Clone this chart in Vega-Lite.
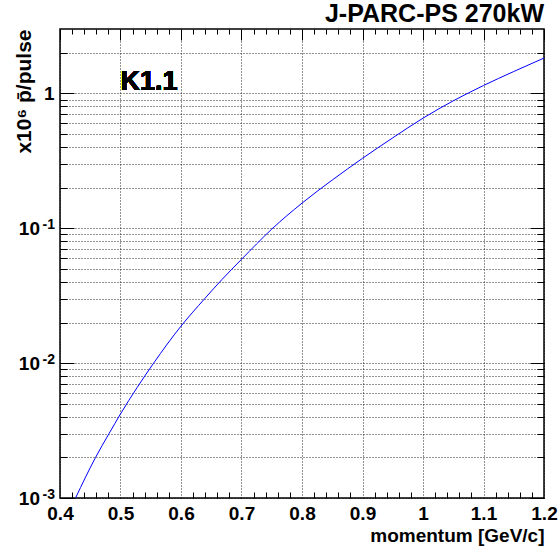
{
  "$schema": "https://vega.github.io/schema/vega-lite/v6.json",
  "width": 484,
  "height": 469,
  "autosize": "none",
  "padding": {"left": 60, "top": 29, "right": 16, "bottom": 53},
  "background": "white",
  "config": {
    "view": {"stroke": "black", "strokeWidth": 1.5},
    "font": "Liberation Sans",
    "axis": {
      "domain": false,
      "labelFont": "Liberation Sans",
      "labelFontWeight": "bold",
      "labelColor": "black",
      "titleFont": "Liberation Sans",
      "titleFontWeight": "bold",
      "titleColor": "black",
      "tickColor": "black",
      "tickWidth": 1,
      "gridColor": "black",
      "gridDash": [1, 2],
      "gridOpacity": 0.85,
      "gridWidth": 1,
      "labelFlush": false,
      "labelOverlap": false,
      "labelBound": false
    }
  },
  "title": {
    "text": "J-PARC-PS 270kW",
    "anchor": "end",
    "frame": "group",
    "fontSize": 25,
    "font": "Liberation Sans",
    "fontWeight": "bold",
    "color": "black",
    "baseline": "alphabetic",
    "offset": 5,
    "dy": 23
  },
  "data": {
    "values": [
      {"p": 0.4257, "n": 0.001},
      {"p": 0.4588, "n": 0.002},
      {"p": 0.481, "n": 0.003},
      {"p": 0.5, "n": 0.0042},
      {"p": 0.5548, "n": 0.01},
      {"p": 0.6, "n": 0.0188},
      {"p": 0.639, "n": 0.03},
      {"p": 0.668, "n": 0.0418},
      {"p": 0.7, "n": 0.0588},
      {"p": 0.75, "n": 0.0985},
      {"p": 0.8, "n": 0.1535},
      {"p": 0.85, "n": 0.2277},
      {"p": 0.9, "n": 0.33},
      {"p": 0.95, "n": 0.468},
      {"p": 1.0, "n": 0.655},
      {"p": 1.05, "n": 0.88},
      {"p": 1.1, "n": 1.143},
      {"p": 1.15, "n": 1.452},
      {"p": 1.2, "n": 1.827}
    ]
  },
  "resolve": {"axis": {"x": "independent", "y": "independent"}},
  "layer": [
    {
      "mark": {"type": "line", "color": "#0000ff", "strokeWidth": 1, "interpolate": "monotone", "clip": true},
      "encoding": {
        "x": {
          "field": "p", "type": "quantitative",
          "scale": {"domain": [0.4, 1.2], "nice": false, "zero": false},
          "axis": {
            "orient": "bottom",
            "values": [0.4, 0.5, 0.6, 0.7, 0.8, 0.9, 1, 1.1, 1.2],
            "labelExpr": "format(datum.value, '.2~f')",
            "ticks": false,
            "grid": true,
            "labelFontSize": 19,
            "labelPadding": 6,
            "labelBaseline": "top",
            "title": "momentum [GeV/c]",
            "titleFontSize": 19,
            "titleAnchor": "end",
            "titleAlign": "right",
            "titleBaseline": "alphabetic",
            "titleX": 484,
            "titleY": 43
          }
        },
        "y": {
          "field": "n", "type": "quantitative",
          "scale": {"type": "log", "domain": [0.001, 3], "nice": false},
          "axis": {
            "orient": "left",
            "values": [0.001, 0.01, 0.1],
            "labelExpr": "'10'",
            "ticks": false,
            "grid": false,
            "labelFontSize": 19,
            "labelPadding": 20.5,
            "labelBaseline": "middle",
            "title": "x10⁶ p̄/pulse",
            "titleFontSize": 21,
            "titleAngle": -90,
            "titleAnchor": "end",
            "titleAlign": "right",
            "titleBaseline": "alphabetic",
            "titleX": -29.5,
            "titleY": 0
          }
        }
      }
    },
    {
      "mark": {"type": "point", "opacity": 0},
      "encoding": {
        "x": {
          "field": "p", "type": "quantitative",
          "axis": {
            "orient": "bottom",
            "values": [0.42, 0.44, 0.46, 0.48, 0.52, 0.54, 0.56, 0.58, 0.62, 0.64, 0.66, 0.68, 0.72, 0.74, 0.76, 0.78, 0.82, 0.84, 0.86, 0.88, 0.92, 0.94, 0.96, 0.98, 1.02, 1.04, 1.06, 1.08, 1.12, 1.14, 1.16, 1.18],
            "tickSize": -6,
            "labels": false,
            "grid": false,
            "title": null
          }
        },
        "y": {
          "field": "n", "type": "quantitative",
          "axis": {
            "orient": "left",
            "values": [0.001, 0.01, 0.1],
            "labelExpr": "'' + round(log(datum.value) / LN10)",
            "ticks": false,
            "grid": false,
            "labelFontSize": 14,
            "labelPadding": 5.5,
            "labelBaseline": "alphabetic",
            "labelDy": -1,
            "title": null
          }
        }
      }
    },
    {
      "mark": {"type": "point", "opacity": 0},
      "encoding": {
        "x": {
          "field": "p", "type": "quantitative",
          "axis": {
            "orient": "top",
            "values": [0.4, 0.5, 0.6, 0.7, 0.8, 0.9, 1, 1.1, 1.2],
            "tickSize": -11,
            "labels": false,
            "grid": false,
            "title": null
          }
        },
        "y": {
          "field": "n", "type": "quantitative",
          "axis": {
            "orient": "left",
            "values": [1],
            "labelExpr": "'1'",
            "ticks": false,
            "grid": false,
            "labelFontSize": 19,
            "labelPadding": 6,
            "labelBaseline": "middle",
            "title": null
          }
        }
      }
    },
    {
      "mark": {"type": "point", "opacity": 0},
      "encoding": {
        "x": {
          "field": "p", "type": "quantitative",
          "axis": {
            "orient": "top",
            "values": [0.42, 0.44, 0.46, 0.48, 0.52, 0.54, 0.56, 0.58, 0.62, 0.64, 0.66, 0.68, 0.72, 0.74, 0.76, 0.78, 0.82, 0.84, 0.86, 0.88, 0.92, 0.94, 0.96, 0.98, 1.02, 1.04, 1.06, 1.08, 1.12, 1.14, 1.16, 1.18],
            "tickSize": -5,
            "labels": false,
            "grid": false,
            "title": null
          }
        },
        "y": {
          "field": "n", "type": "quantitative",
          "axis": {
            "orient": "left",
            "values": [0.002, 0.003, 0.004, 0.005, 0.006, 0.007, 0.008, 0.009, 0.02, 0.03, 0.04, 0.05, 0.06, 0.07, 0.08, 0.09, 0.2, 0.3, 0.4, 0.5, 0.6, 0.7, 0.8, 0.9, 2],
            "tickSize": -7,
            "labels": false,
            "grid": true,
            "title": null
          }
        }
      }
    },
    {
      "mark": {"type": "point", "opacity": 0},
      "encoding": {
        "x": {"field": "p", "type": "quantitative", "axis": null},
        "y": {
          "field": "n", "type": "quantitative",
          "axis": {
            "orient": "left",
            "values": [0.001, 0.01, 0.1, 1],
            "tickSize": -14,
            "labels": false,
            "grid": true,
            "title": null
          }
        }
      }
    },
    {
      "mark": {"type": "point", "opacity": 0},
      "encoding": {
        "x": {"field": "p", "type": "quantitative", "axis": null},
        "y": {
          "field": "n", "type": "quantitative",
          "axis": {
            "orient": "right",
            "values": [0.001, 0.01, 0.1, 1],
            "tickSize": -14,
            "labels": false,
            "grid": false,
            "title": null
          }
        }
      }
    },
    {
      "mark": {"type": "point", "opacity": 0},
      "encoding": {
        "x": {"field": "p", "type": "quantitative", "axis": null},
        "y": {
          "field": "n", "type": "quantitative",
          "axis": {
            "orient": "right",
            "values": [0.002, 0.003, 0.004, 0.005, 0.006, 0.007, 0.008, 0.009, 0.02, 0.03, 0.04, 0.05, 0.06, 0.07, 0.08, 0.09, 0.2, 0.3, 0.4, 0.5, 0.6, 0.7, 0.8, 0.9, 2],
            "tickSize": -7,
            "labels": false,
            "grid": false,
            "title": null
          }
        }
      }
    },
    {
      "mark": {"type": "text", "font": "Liberation Sans", "fontWeight": "bold", "fontSize": 27, "align": "left", "baseline": "alphabetic", "color": "black"},
      "encoding": {
        "x": {"datum": 0.5, "type": "quantitative", "axis": null},
        "y": {"datum": 1.05, "type": "quantitative", "axis": null},
        "text": {"value": "K1.1"}
      }
    }
  ]
}
